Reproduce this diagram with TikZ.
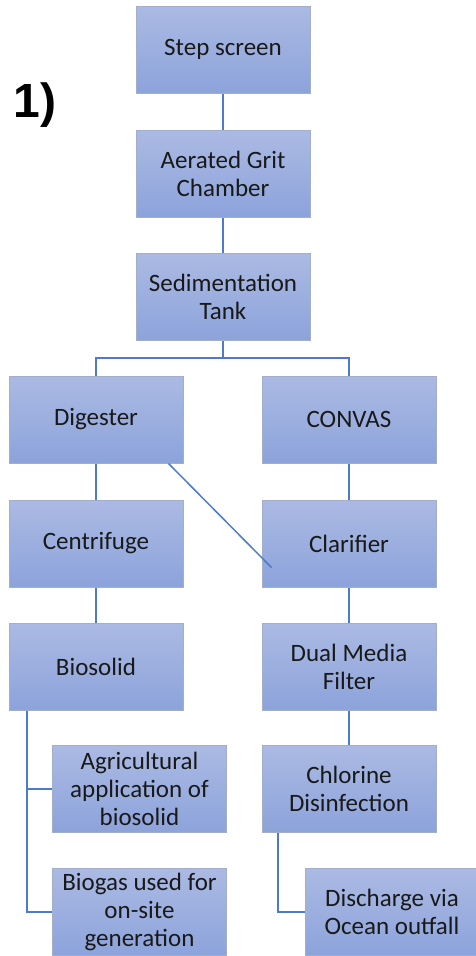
\documentclass[tikz,border=0pt]{standalone}
\usepackage{fontspec}
\setmainfont{Carlito}
\newfontfamily\labelfont{Liberation Sans}[BoldFont={Liberation Sans Bold}]
\usetikzlibrary{calc}
\definecolor{boxtop}{HTML}{ABBAE3}
\definecolor{boxbottom}{HTML}{8CA3DB}
\definecolor{boxedge}{HTML}{A3AECB}
\definecolor{linkblue}{HTML}{4C7BC9}
\begin{document}
\begin{tikzpicture}[x=1pt,y=-1pt,
  stage/.style={draw=boxedge, line width=1pt, top color=boxtop, bottom color=boxbottom,
    minimum width=174pt, minimum height=87pt, align=center, inner sep=2pt,
    font=\fontsize{25}{28}\selectfont, text=black!90},
  link/.style={draw=linkblue, line width=2pt}]
\useasboundingbox (0,0) rectangle (475,956);

% main stream
\node[stage] (step) at (223,49.5) {Step screen};
\node[stage] (grit) at (223,173.5) {Aerated Grit\\Chamber};
\node[stage] (sed)  at (223,297) {Sedimentation\\Tank};

% sludge line
\node[stage] (dig)  at (96,419.5) {Digester};
\node[stage] (cent) at (96,543.5) {Centrifuge};
\node[stage] (bio)  at (96,666.5) {Biosolid};
\node[stage] (agr)  at (139.5,789) {Agricultural\\application of\\biosolid};
\node[stage] (gas)  at (139.5,912) {Biogas used for\\on-site\\generation};

% liquid line
\node[stage] (conv) at (349,419.5) {CONVAS};
\node[stage] (clar) at (349,543.5) {Clarifier};
\node[stage] (dual) at (349,666.5) {Dual Media\\Filter};
\node[stage] (chl)  at (349,788.5) {Chlorine\\Disinfection};
\node[stage] (dis)  at (392,912) {Discharge via\\Ocean outfall};

\node[font=\labelfont\bfseries\fontsize{48}{50}\selectfont] (num) at (35,105) {1)};

% connectors
\draw[link] (step) -- (grit);
\draw[link] (grit) -- (sed);
\coordinate (split) at ($(sed.south)+(0,16.5)$);
\draw[link] (sed.south) -- (split) -| (dig.north);
\draw[link] (split) -| (conv.north);
\draw[link] (dig) -- (cent);
\draw[link] (cent) -- (bio);
\draw[link] (conv) -- (clar);
\draw[link] (clar) -- (dual);
\draw[link] (dual) -- (chl);
\draw[link] ($(bio.south west)+(18,0)$) |- (gas.west);
\draw[link] ($(bio.south west)+(18,0)$) |- (agr.west);
\draw[link] ($(chl.south west)+(16,0)$) |- (dis.west);
\coordinate (crossend) at ($(clar.south west)+(10,-20)$);
\draw[link, line width=1.5pt] ($(dig.south east)+(-15,0)$) -- (crossend);
\end{tikzpicture}
\end{document}
